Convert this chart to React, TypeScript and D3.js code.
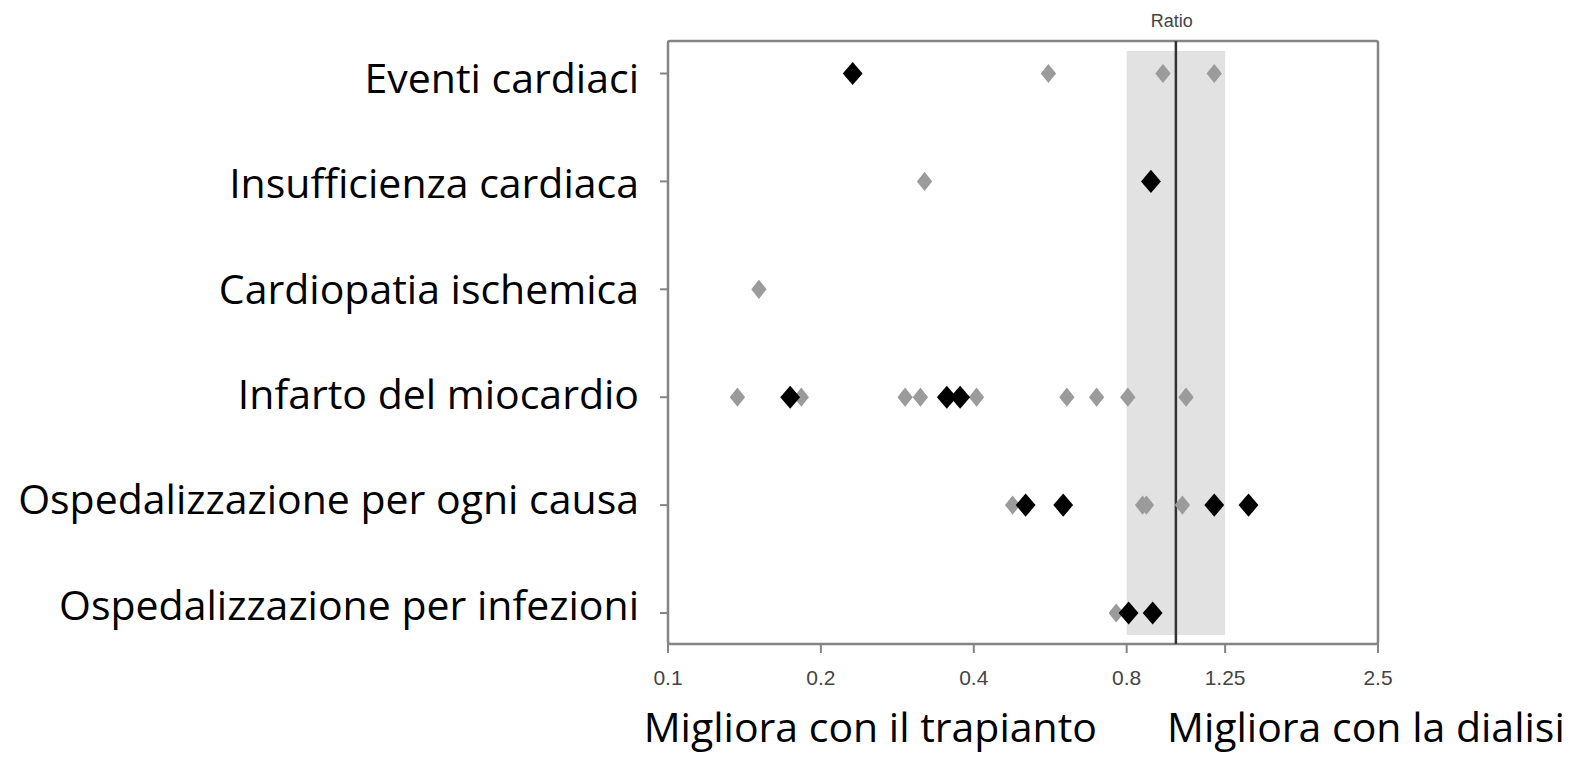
import * as d3 from 'd3'
import React, { useEffect, useRef } from 'react'

// righe del grafico (dall'alto in basso)
const categories = [
  'Eventi cardiaci',
  'Insufficienza cardiaca',
  'Cardiopatia ischemica',
  'Infarto del miocardio',
  'Ospedalizzazione per ogni causa',
  'Ospedalizzazione per infezioni',
]

// studi in grigio
const greyValues = [
  [0.561, 0.943, 1.19],
  [0.32],
  [0.151],
  [0.137, 0.183, 0.293, 0.314, 0.405, 0.61, 0.698, 0.804, 1.047],
  [0.477, 0.86, 0.875, 1.03],
  [0.763],
]

// studi in nero
const blackValues = [
  [0.231],
  [0.893],
  [],
  [0.174, 0.354, 0.376],
  [0.506, 0.6, 1.19, 1.39],
  [0.807, 0.9],
]

const tickValues = [0.1, 0.2, 0.4, 0.8, 1.25, 2.5]
const bandRange = [0.8, 1.25]
const refValue = 1
const axisTitle = 'Ratio'
const bottomLabels = ['Migliora con il trapianto', 'Migliora con la dialisi']

const W = 1579
const H = 757
const frame = { left: 668, right: 1378, top: 41, bottom: 644 }
const labelFont = 'Open Sans, sans-serif'
const axisFont = 'Liberation Sans, Arial, sans-serif'

const App = () => {
  const ref = useRef<SVGSVGElement>(null)

  useEffect(() => {
    if (!ref.current) return
    const svg = d3.select(ref.current)
    svg.selectAll('*').remove()

    const x = d3.scaleLog().base(2).domain([0.1, 2.5]).range([frame.left, frame.right])
    const y = d3.scalePoint<string>().domain(categories).range([73.5, 613])
    // le etichette erano posizionate a mano, leggermente diverse dai tick
    const yLabel = d3.scalePoint<string>().domain(categories).range([78, 605])

    // banda grigia 0.8 - 1.25
    svg
      .append('rect')
      .attr('x', x(bandRange[0]))
      .attr('y', 51)
      .attr('width', x(bandRange[1]) - x(bandRange[0]))
      .attr('height', 635 - 51)
      .attr('fill', '#e2e2e2')

    // cornice
    svg
      .append('rect')
      .attr('x', frame.left)
      .attr('y', frame.top)
      .attr('width', frame.right - frame.left)
      .attr('height', frame.bottom - frame.top)
      .attr('fill', 'none')
      .attr('stroke', '#858585')
      .attr('stroke-width', 2.5)
      .attr('rx', 2)

    // linea di riferimento a 1
    svg
      .append('line')
      .attr('x1', x(refValue))
      .attr('x2', x(refValue))
      .attr('y1', frame.top)
      .attr('y2', frame.bottom)
      .attr('stroke', '#333')
      .attr('stroke-width', 2.5)

    // asse x
    const xAxis = svg.append('g').attr('transform', `translate(0,${frame.bottom})`)
    xAxis
      .selectAll('line')
      .data(tickValues)
      .join('line')
      .attr('x1', (d) => x(d))
      .attr('x2', (d) => x(d))
      .attr('y1', 0)
      .attr('y2', 9)
      .attr('stroke', '#858585')
      .attr('stroke-width', 2)
    xAxis
      .selectAll('text')
      .data(tickValues)
      .join('text')
      .attr('x', (d) => x(d))
      .attr('y', 41)
      .attr('text-anchor', 'middle')
      .attr('font-family', axisFont)
      .attr('font-size', 21)
      .attr('fill', '#444')
      .text((d) => String(d))

    // tick a sinistra
    svg
      .append('g')
      .selectAll('line')
      .data(categories)
      .join('line')
      .attr('x1', frame.left - 8)
      .attr('x2', frame.left)
      .attr('y1', (d) => y(d) as number)
      .attr('y2', (d) => y(d) as number)
      .attr('stroke', '#858585')
      .attr('stroke-width', 2)

    svg
      .append('text')
      .attr('x', x(refValue) - 4)
      .attr('y', 27)
      .attr('text-anchor', 'middle')
      .attr('font-family', axisFont)
      .attr('font-size', 18)
      .attr('fill', '#444')
      .text(axisTitle)

    // etichette categorie
    svg
      .append('g')
      .selectAll('text')
      .data(categories)
      .join('text')
      .attr('x', 639)
      .attr('y', (d) => yLabel(d) as number)
      .attr('dy', '0.36em')
      .attr('text-anchor', 'end')
      .attr('font-family', labelFont)
      .attr('font-size', 41)
      .attr('fill', '#000')
      .text((d) => d)

    // punti
    const diamond = (size: number) => d3.symbol().type(d3.symbolDiamond2).size(size)()
    const points = (vals: number[][]) =>
      vals.flatMap((row, i) => row.map((v) => ({ cat: categories[i], v })))

    svg
      .append('g')
      .selectAll('path')
      .data(points(greyValues))
      .join('path')
      .attr('d', diamond(235))
      .attr('transform', (d) => `translate(${x(d.v)},${y(d.cat)}) scale(0.8,1)`)
      .attr('fill', '#9b9b9b')

    svg
      .append('g')
      .selectAll('path')
      .data(points(blackValues))
      .join('path')
      .attr('d', diamond(340))
      .attr('transform', (d) => `translate(${x(d.v)},${y(d.cat)}) scale(0.86,1)`)
      .attr('fill', '#000')

    // didascalie sotto l'asse
    svg
      .append('text')
      .attr('x', 1097)
      .attr('y', 742)
      .attr('text-anchor', 'end')
      .attr('font-family', labelFont)
      .attr('font-size', 41)
      .text(bottomLabels[0])
    svg
      .append('text')
      .attr('x', 1167)
      .attr('y', 742)
      .attr('text-anchor', 'start')
      .attr('font-family', labelFont)
      .attr('font-size', 41)
      .text(bottomLabels[1])
  }, [])

  return (
    <svg
      ref={ref}
      width={W}
      height={H}
      style={{ position: 'absolute', left: 0, top: 0, display: 'block', background: '#fff' }}
    />
  )
}

export default App
